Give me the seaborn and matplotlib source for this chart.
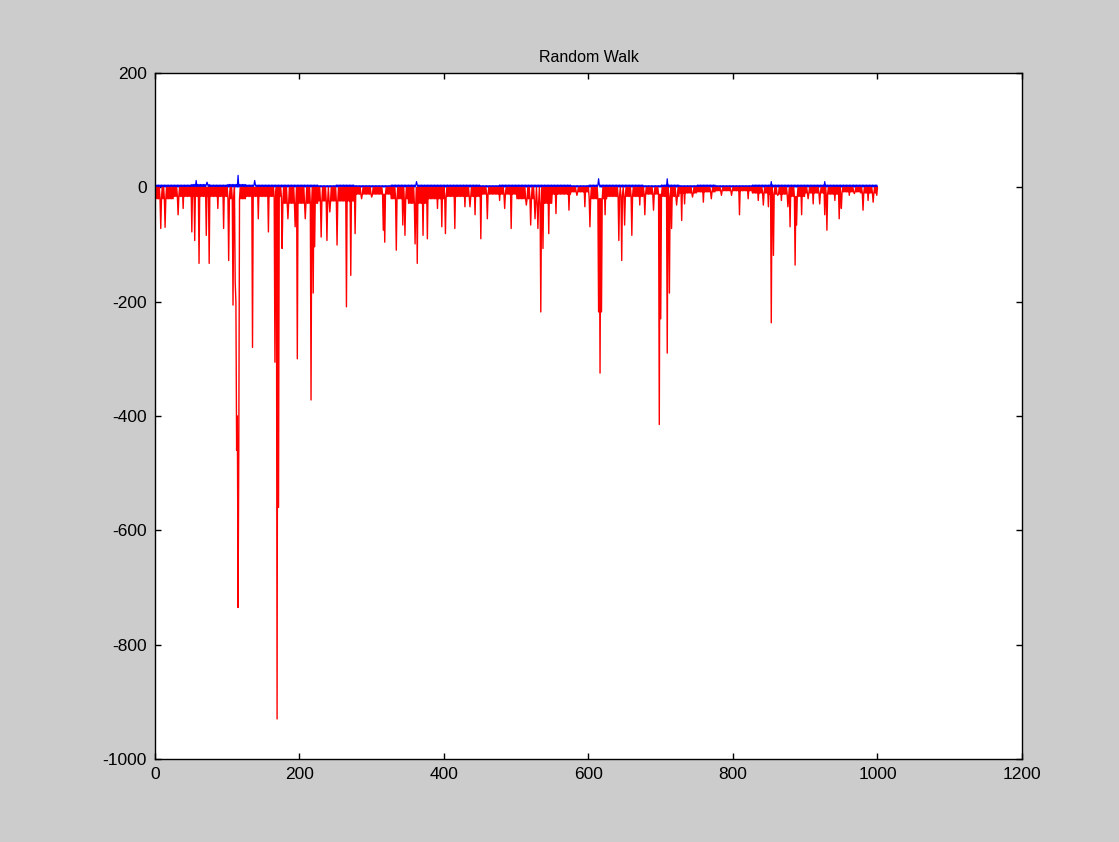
import numpy as np
import pandas as pd
import matplotlib
matplotlib.use("Agg")
import matplotlib.pyplot as plt
import seaborn as sns

# red walk: deep dips (step index, value)
red_spike_idx = [8, 14, 32, 39, 51, 55, 61, 71, 75, 87, 95, 102, 108, 111, 112, 113, 114, 115, 116,
                 135, 143, 157, 166, 169, 171, 176, 184, 194, 197, 208, 216, 219, 221, 230, 238, 242,
                 252, 265, 271, 277, 286, 300, 316, 318, 334, 343, 346, 360, 363, 371, 377, 391, 397,
                 402, 415, 429, 436, 443, 451, 460, 477, 484, 493, 501, 514, 520, 526, 530, 534, 537,
                 545, 555, 573, 584, 595, 602, 614, 616, 618, 623, 642, 646, 650, 660, 671, 678, 690,
                 698, 700, 709, 712, 715, 722, 729, 733, 744, 759, 770, 784, 798, 809, 821, 835, 842,
                 849, 853, 856, 862, 867, 876, 879, 886, 888, 895, 904, 911, 920, 927, 930, 941, 947,
                 950, 961, 968, 980, 987, 994, 999]
red_spike_val = [-72, -70, -48, -37, -78, -93, -133, -84, -133, -37, -72, -128, -206, -165, -200, -460, -400, -735, -460,
                 -280, -55, -78, -306, -930, -560, -107, -55, -69, -300, -55, -372, -185, -104, -87, -93, -43,
                 -101, -209, -154, -81, -20, -17, -75, -96, -110, -66, -84, -99, -133, -84, -90, -37, -69,
                 -81, -72, -34, -34, -48, -90, -55, -23, -37, -72, -20, -31, -66, -55, -72, -218, -107,
                 -81, -46, -40, -14, -34, -69, -218, -325, -218, -48, -93, -128, -66, -84, -31, -48, -40,
                 -415, -230, -290, -185, -72, -31, -58, -29, -17, -26, -20, -14, -14, -48, -20, -23, -31,
                 -34, -237, -119, -14, -23, -34, -69, -136, -66, -48, -20, -29, -29, -48, -75, -23, -55,
                 -37, -14, -11, -40, -23, -26, -14]
# typical depth of the dense band under zero, per block of 25 steps
red_floor = [-20, -16, -16, -16, -20, -16, -16, -28, -28, -24, -24, -12, -12, -20, -28, -20,
             -16, -16, -12, -12, -20, -28, -12, -8, -20, -16, -16, -12, -16, -10, -8, -6,
             -6, -10, -12, -16, -10, -12, -8, -10]

# blue walk: small band above zero, per block of 25 steps, plus a few bumps
blue_level = [4, 4, 5, 4, 5, 4, 4, 4, 4, 3, 4, 3, 3, 4, 4, 4, 4, 4, 3, 4,
              4, 4, 4, 3, 4, 4, 4, 3, 4, 3, 4, 3, 3, 4, 4, 4, 4, 4, 4, 4]
blue_bump_idx = [57, 72, 115, 138, 362, 614, 709, 853, 927]
blue_bump_val = [12, 9, 21, 12, 10, 15, 15, 10, 10]

steps = np.arange(1, 1001)
red = np.array([red_floor[(i - 1) // 25] if i % 2 else 0.0 for i in steps], dtype=float)
red[np.array(red_spike_idx) - 1] = red_spike_val
blue = np.array([blue_level[(i - 1) // 25] if i % 2 else 0.5 for i in steps], dtype=float)
blue[np.array(blue_bump_idx) - 1] = blue_bump_val

df = pd.DataFrame({"step": steps, "blue": blue, "red": red})

sns.set_style("ticks")
plt.rcParams['font.family'] = ['Liberation Sans', 'DejaVu Sans']
plt.rcParams['axes.unicode_minus'] = False

fig = plt.figure(figsize=(11.19, 8.42), dpi=100, facecolor="#cccccc")
ax = fig.add_axes([0.1385, 0.0986, 0.7748, 0.8147])
ax.set_facecolor("white")

sns.lineplot(data=df, x="step", y="blue", color="#0000ff", linewidth=0.9, estimator=None, ax=ax)
sns.lineplot(data=df, x="step", y="red", color="#ff0000", linewidth=1.0, estimator=None, ax=ax)

ax.set_xlim(0, 1200)
ax.set_ylim(-1000, 200)
ax.set_xticks(range(0, 1201, 200))
ax.set_yticks(range(-1000, 201, 200))
ax.set_xlabel("")
ax.set_ylabel("")
ax.set_title("Random Walk", fontsize=11.5, pad=8, color="black")
ax.tick_params(direction="in", length=4, width=1, labelsize=12.5, top=True, right=True,
               colors="black", pad=6)
for s in ax.spines.values():
    s.set_visible(True)
    s.set_color("black")
    s.set_linewidth(1.0)

fig.savefig("out.png", dpi=100, facecolor=fig.get_facecolor())
